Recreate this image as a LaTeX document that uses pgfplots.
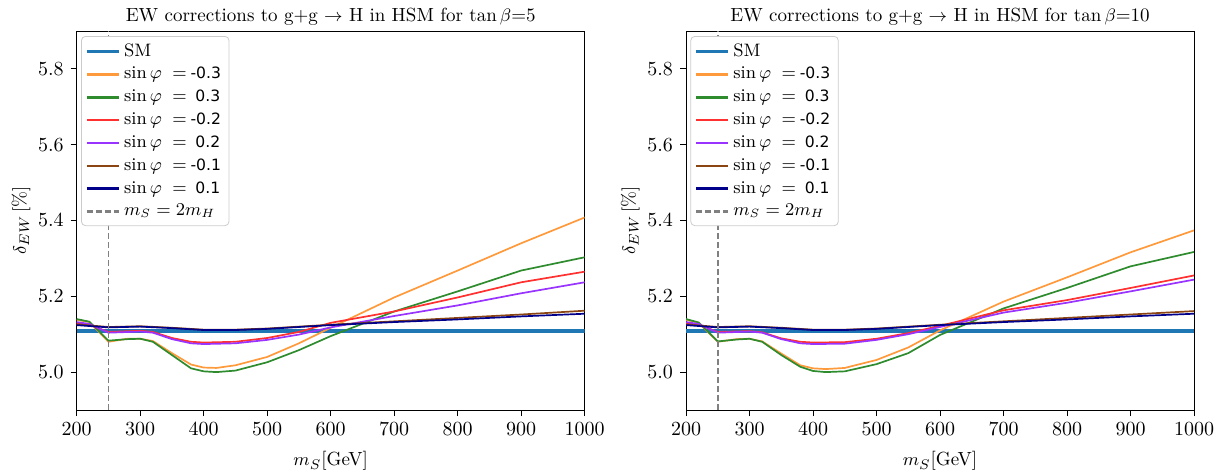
\documentclass[border=0pt]{standalone}
\usepackage{pgfplots}
\pgfplotsset{compat=1.18}
\usepackage{fontspec}
\newfontfamily\dejavu{DejaVu Sans}
\definecolor{smblue}{HTML}{1F77B4}
\definecolor{myorange}{HTML}{FF9A3C}
\definecolor{mygreen}{HTML}{2E8B2E}
\definecolor{myred}{HTML}{FF3030}
\definecolor{mypurple}{HTML}{9933FF}
\definecolor{mybrown}{HTML}{8B4513}
\definecolor{mynavy}{HTML}{00008B}
\newcommand{\lv}[1]{$\sin\varphi\;=$\hspace{0.5ex}{\dejavu\fontsize{7.8}{10}\selectfont #1}}
\pgfplotsset{
  hsm/.style={
    scale only axis, width=254pt, height=189.5pt,
    xmin=200, xmax=1000, ymin=4.9, ymax=5.9,
    xtick={200,300,...,1000},
    ytick={5.0,5.2,5.4,5.6,5.8},
    yticklabel style={/pgf/number format/.cd, fixed, fixed zerofill, precision=1},
    xticklabel style={/pgf/number format/.cd, set thousands separator={}},
    scaled y ticks=false,
    tick align=outside, tick pos=left,
    major tick length=3pt,
    tick style={black, line width=0.5pt},
    axis line style={line width=0.5pt},
    ticklabel style={font=\fontsize{10}{12}\selectfont},
    label style={font=\fontsize{9.5}{11}\selectfont},
    xlabel={$m_S$[GeV]},
    ylabel={$\delta_{EW}\,[\%]$},
    xlabel style={yshift=-1pt},
    ylabel style={yshift=-3pt},
    title style={font=\fontsize{9.5}{11}\selectfont, at={(0.5,1)}, anchor=base, yshift=-1pt, inner sep=0pt},
    legend style={at={(0,1)}, anchor=north west, xshift=2.2pt, yshift=-2.5pt,
      draw=black!20, rounded corners=2pt, fill=white,
      font=\fontsize{9}{12.1}\selectfont, inner xsep=2pt, inner ysep=1.5pt},
    legend cell align=left,
    legend image code/.code={\draw[##1, line width=1.3pt] (0pt,0pt) -- (16pt,0pt);},
    every axis plot/.append style={line join=round},
  },
  sm/.style={smblue, line width=1.8pt},
  cs/.style={line width=0.85pt},
}
\begin{document}
\begin{tikzpicture}
\useasboundingbox (0,0) rectangle (614.5pt,236pt);
% ---------------- left panel ----------------
\begin{axis}[hsm, at={(38.35pt,31pt)}, anchor=south west,
  title={EW corrections to g+g $\rightarrow$ H in HSM for $\tan\beta$=5}]
\addplot[sm] coordinates {(200,5.109)(1000,5.109)};
\addlegendentry{SM}
\addplot[cs, color=myorange] coordinates {
(200,5.138)(220,5.132)(250,5.080)(280,5.088)(300,5.088)(320,5.082)(350,5.050)(380,5.020)(400,5.012)(420,5.011)(450,5.018)(500,5.040)(550,5.076)(600,5.117)(700,5.197)(800,5.268)(900,5.340)(1000,5.408)};
\addlegendentry{\lv{-0.3}}
\addplot[cs, color=mygreen] coordinates {
(200,5.140)(220,5.133)(250,5.083)(280,5.087)(300,5.088)(320,5.080)(350,5.045)(380,5.010)(400,5.002)(420,5.000)(450,5.004)(500,5.026)(550,5.058)(600,5.095)(700,5.160)(800,5.213)(900,5.268)(1000,5.303)};
\addlegendentry{\lv{\ 0.3}}
\addplot[cs, color=myred] coordinates {
(200,5.129)(220,5.125)(250,5.106)(300,5.109)(320,5.106)(350,5.090)(380,5.080)(400,5.078)(450,5.080)(500,5.090)(550,5.106)(600,5.130)(700,5.160)(800,5.197)(900,5.237)(1000,5.265)};
\addlegendentry{\lv{-0.2}}
\addplot[cs, color=mypurple] coordinates {
(200,5.132)(220,5.127)(250,5.104)(300,5.107)(320,5.104)(350,5.087)(380,5.076)(400,5.074)(450,5.076)(500,5.085)(550,5.099)(600,5.118)(700,5.148)(800,5.176)(900,5.208)(1000,5.237)};
\addlegendentry{\lv{\ 0.2}}
\addplot[cs, color=mybrown] coordinates {
(200,5.126)(250,5.119)(300,5.121)(350,5.117)(400,5.112)(450,5.112)(500,5.115)(550,5.120)(600,5.125)(700,5.134)(800,5.143)(900,5.152)(1000,5.162)};
\addlegendentry{\lv{-0.1}}
\addplot[cs, color=mynavy] coordinates {
(200,5.124)(250,5.118)(300,5.120)(350,5.116)(400,5.111)(450,5.111)(500,5.114)(550,5.119)(600,5.124)(700,5.132)(800,5.139)(900,5.147)(1000,5.154)};
\addlegendentry{\lv{\ 0.1}}
\addplot[gray, line width=0.8pt, dash pattern=on 3pt off 1.5pt] coordinates {(250,4.9)(250,5.9)};
\addlegendentry{$m_S=2m_H$}
\end{axis}
% ---------------- right panel ----------------
\begin{axis}[hsm, at={(343pt,31pt)}, anchor=south west,
  title={EW corrections to g+g $\rightarrow$ H in HSM for $\tan\beta$=10}]
\addplot[sm] coordinates {(200,5.109)(1000,5.109)};
\addlegendentry{SM}
\addplot[cs, color=myorange] coordinates {
(200,5.138)(220,5.130)(250,5.080)(280,5.087)(300,5.088)(320,5.081)(350,5.049)(380,5.018)(400,5.010)(420,5.008)(450,5.011)(500,5.032)(550,5.065)(600,5.110)(700,5.186)(800,5.250)(900,5.316)(1000,5.374)};
\addlegendentry{\lv{-0.3}}
\addplot[cs, color=mygreen] coordinates {
(200,5.140)(220,5.131)(250,5.081)(280,5.086)(300,5.088)(320,5.080)(350,5.045)(380,5.014)(400,5.003)(420,5.000)(450,5.002)(500,5.021)(550,5.050)(600,5.098)(700,5.168)(800,5.222)(900,5.279)(1000,5.317)};
\addlegendentry{\lv{\ 0.3}}
\addplot[cs, color=myred] coordinates {
(200,5.129)(220,5.125)(250,5.106)(300,5.108)(320,5.105)(350,5.089)(380,5.080)(400,5.078)(450,5.079)(500,5.088)(550,5.103)(600,5.122)(700,5.163)(800,5.190)(900,5.222)(1000,5.255)};
\addlegendentry{\lv{-0.2}}
\addplot[cs, color=mypurple] coordinates {
(200,5.132)(220,5.127)(250,5.104)(300,5.107)(320,5.104)(350,5.087)(380,5.076)(400,5.074)(450,5.075)(500,5.085)(550,5.100)(600,5.119)(700,5.157)(800,5.183)(900,5.213)(1000,5.244)};
\addlegendentry{\lv{\ 0.2}}
\addplot[cs, color=mybrown] coordinates {
(200,5.126)(250,5.119)(300,5.121)(350,5.117)(400,5.112)(450,5.112)(500,5.115)(550,5.120)(600,5.125)(700,5.134)(800,5.143)(900,5.152)(1000,5.161)};
\addlegendentry{\lv{-0.1}}
\addplot[cs, color=mynavy] coordinates {
(200,5.124)(250,5.118)(300,5.120)(350,5.116)(400,5.111)(450,5.111)(500,5.114)(550,5.119)(600,5.124)(700,5.132)(800,5.139)(900,5.147)(1000,5.154)};
\addlegendentry{\lv{\ 0.1}}
\addplot[gray, line width=0.8pt, dash pattern=on 3pt off 1.5pt] coordinates {(250,4.9)(250,5.9)};
\addlegendentry{$m_S=2m_H$}
\end{axis}
\end{tikzpicture}
\end{document}
